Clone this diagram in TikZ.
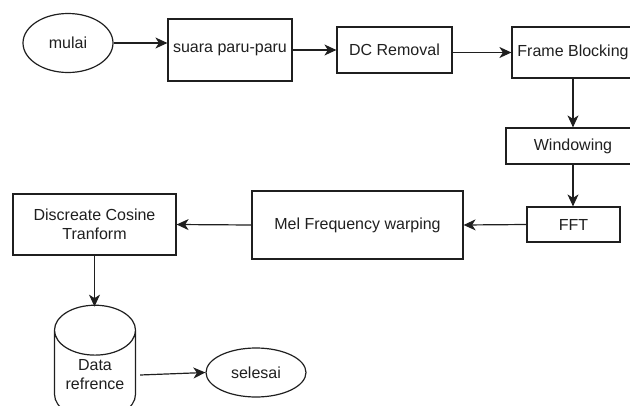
\documentclass[tikz,border=0pt]{standalone}
\usepackage{fontspec}
\setmainfont{Liberation Sans}
\usepackage{tikz}
\usetikzlibrary{shapes.geometric, arrows.meta, positioning, calc}
\definecolor{InkGrey}{HTML}{1F1F1F}

\begin{document}
\begin{tikzpicture}[x=1pt, y=-1pt, >={Stealth[length=12pt, width=11pt, inset=3.5pt]}, line width=1.2pt, draw=InkGrey,
    procbox/.style={draw=InkGrey, rectangle, inner sep=2pt, align=center, text=InkGrey, font=\fontsize{16}{19}\selectfont},
    terminal/.style={draw=InkGrey, ellipse, inner sep=0pt, text=InkGrey, font=\fontsize{16}{19}\selectfont},
    store/.style={draw=InkGrey, cylinder, shape border rotate=90, aspect=0.85, inner sep=0pt, align=center, text=InkGrey, font=\fontsize{16}{19}\selectfont}]
    \useasboundingbox (0,0) rectangle (630,405);
    \clip (0,0) rectangle (630,405);

    % top row
    \node [terminal, minimum width=90, minimum height=59] (mulai) at (68,43) {mulai};
    \node [procbox, minimum width=124, minimum height=62] (suara) at (230,50) {suara paru-paru};
    \node [procbox, minimum width=115, minimum height=46] (dc) at (394.5,50) {DC Removal};
    \node [procbox, minimum width=122, minimum height=51] (frame) at (573,52.5) {Frame Blocking};

    % right column
    \node [procbox, minimum width=134, minimum height=36] (win) at (573,146) {Windowing};
    \node [procbox, minimum width=93, minimum height=35] (fft) at (573.5,224.5) {FFT};

    % middle row
    \node [procbox, minimum width=211, minimum height=68] (mel) at (357.5,225) {Mel Frequency warping};
    \node [procbox, minimum width=163, minimum height=61] (dct) at (94.5,224.5) {Discreate Cosine\\Tranform};

    % bottom
    \node [store, minimum width=81, minimum height=114] (data) at (95,375) {Data\\refrence};
    \node [terminal, minimum width=100, minimum height=49] (selesai) at (256,372.5) {selesai};

    \draw [->] (mulai.east) -- (mulai.east -| suara.west);
    \draw [->] (suara.east) -- (dc.west);
    \draw [->] (dc.east |- frame.west) -- (frame.west);
    \draw [->] (frame.south) -- (win.north);
    \draw [->] (win.south) -- (win.south |- fft.north);
    \draw [->] (fft.west) -- (mel.east);
    \draw [->] (mel.west) -- (dct.east);
    \draw [->] (dct.south) -- ([yshift=-2pt]dct.south |- data.north);
    \draw [->] ([xshift=4pt]data.east) -- (selesai.west);
\end{tikzpicture}
\end{document}
